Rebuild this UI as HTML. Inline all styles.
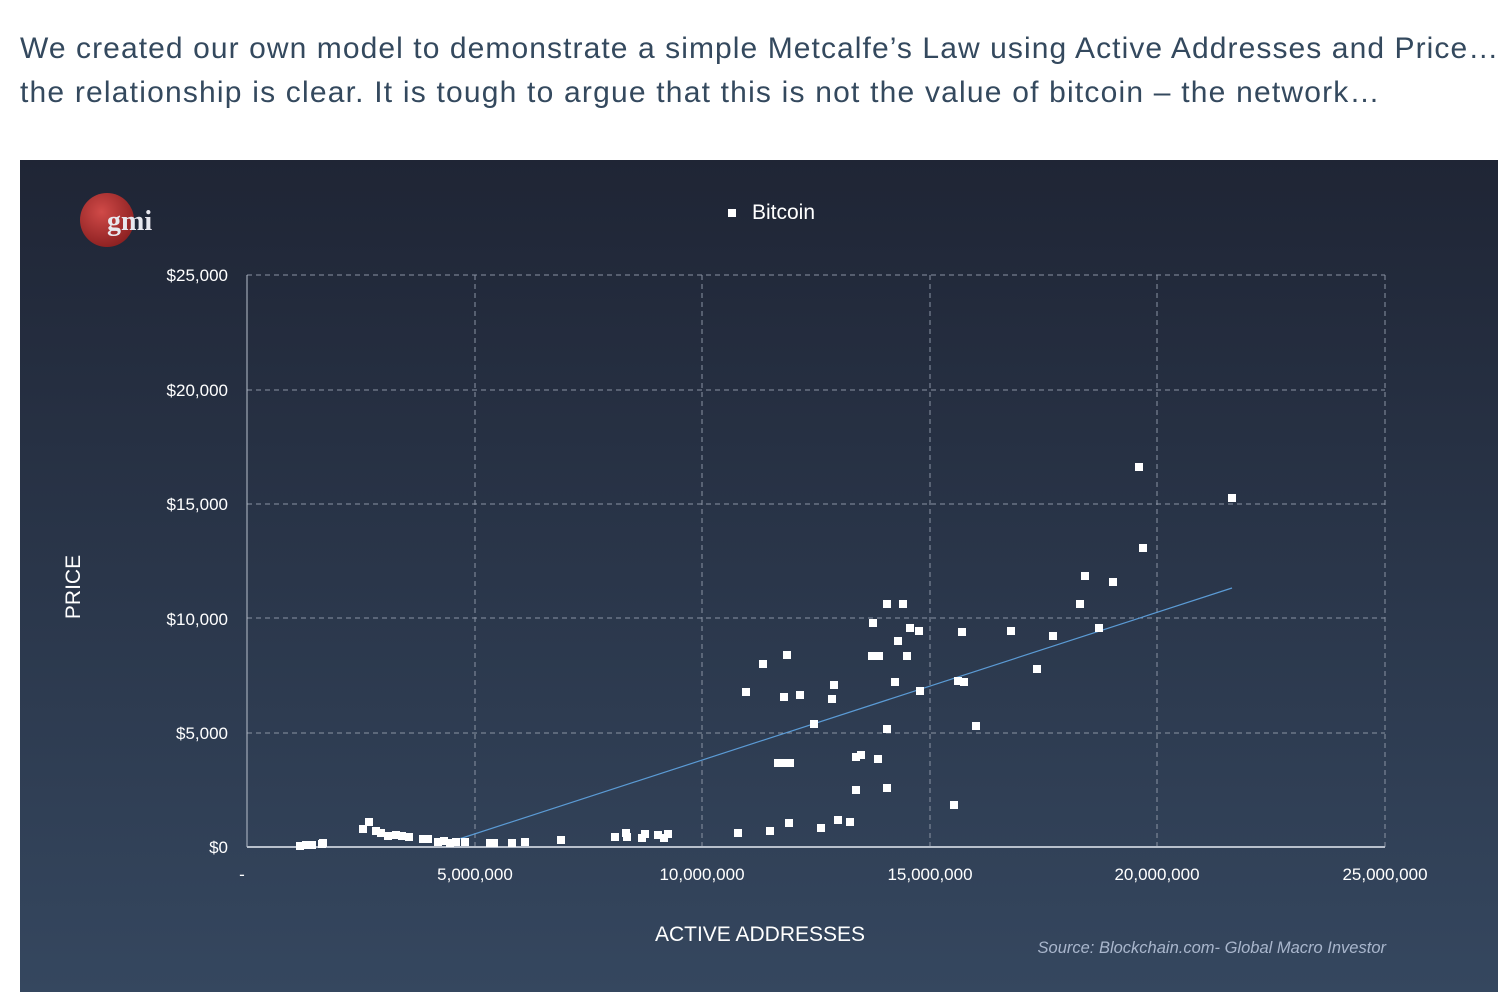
<!DOCTYPE html><html><head><meta charset="utf-8"><style>
body{margin:0;width:1508px;height:1008px;background:#fff;position:relative;overflow:hidden;font-family:"Liberation Sans",sans-serif}
.t{position:absolute;left:20px;color:#34495e;font-size:30px;white-space:nowrap}
</style></head><body>
<div class="t" style="top:32px;letter-spacing:1.08px">We created our own model to demonstrate a simple Metcalfe’s Law using Active Addresses and Price…</div>
<div class="t" style="top:76px;letter-spacing:1.2px">the relationship is clear. It is tough to argue that this is not the value of bitcoin – the network…</div>
<svg style="position:absolute;left:0;top:0" width="1508" height="1008">
<defs><linearGradient id="g" x1="0" y1="0" x2="0" y2="1"><stop offset="0" stop-color="#1f2535"/><stop offset="1" stop-color="#35475f"/></linearGradient>
<radialGradient id="r" cx="0.4" cy="0.35" r="0.7"><stop offset="0" stop-color="#d04a48"/><stop offset="1" stop-color="#8a1f20"/></radialGradient></defs>
<rect x="20" y="160" width="1478" height="832" fill="url(#g)"/>
<circle cx="107" cy="220" r="27" fill="url(#r)"/>
<text x="107" y="230" font-family="Liberation Serif,serif" font-weight="bold" font-size="28" fill="#e8e8ee">gmi</text>
<g stroke="#8a93a3" stroke-dasharray="5,4" stroke-width="1" fill="none">
<line x1="247" y1="275" x2="1385" y2="275"/><line x1="247" y1="390" x2="1385" y2="390"/><line x1="247" y1="504" x2="1385" y2="504"/><line x1="247" y1="618" x2="1385" y2="618"/><line x1="247" y1="733" x2="1385" y2="733"/>
<line x1="475" y1="275" x2="475" y2="847"/><line x1="702" y1="275" x2="702" y2="847"/><line x1="930" y1="275" x2="930" y2="847"/><line x1="1157" y1="275" x2="1157" y2="847"/><line x1="1385" y1="275" x2="1385" y2="847"/>
</g>
<line x1="247" y1="275" x2="247" y2="847" stroke="#b8c0cc"/>
<line x1="247" y1="847" x2="1385" y2="847" stroke="#b8c0cc" stroke-width="2"/>
<g fill="#fff" font-size="17" text-anchor="end">
<text x="228" y="281">$25,000</text><text x="228" y="396">$20,000</text><text x="228" y="510">$15,000</text><text x="228" y="625">$10,000</text><text x="228" y="739">$5,000</text><text x="228" y="853">$0</text>
</g>
<g fill="#fff" font-size="17" text-anchor="middle">
<text x="242" y="880">-</text><text x="475" y="880">5,000,000</text><text x="702" y="880">10,000,000</text><text x="930" y="880">15,000,000</text><text x="1157" y="880">20,000,000</text><text x="1385" y="880">25,000,000</text>
<text x="760" y="941" font-size="21">ACTIVE ADDRESSES</text>
</g>
<text x="80" y="587" fill="#fff" font-size="21" text-anchor="middle" transform="rotate(-90 80 587)">PRICE</text>
<rect x="728" y="209" width="8" height="8" fill="#fff"/>
<text x="752" y="219" fill="#fff" font-size="21">Bitcoin</text>
<text x="1386" y="953" fill="#a9b6cc" font-size="16.5" font-style="italic" text-anchor="end">Source: Blockchain.com- Global Macro Investor</text>
<line x1="456" y1="840" x2="1232" y2="588" stroke="#5b9bd5" stroke-width="1.2"/>
<g fill="#fff" id="p"></g>
</svg>
<script>
var pts=[[300,846],[306,845],[312,845],[322,844],[323,843],[363,829],[369,822],[376,831],[381,833],[388,836],[396,835],[402,836],[409,837],[423,839],[428,839],[438,842],[444,841],[450,843],[456,842],[465,842],[490,843],[494,843],[512,843],[525,842],[561,840],[615,837],[626,833],[627,837],[642,838],[645,834],[658,835],[664,838],[668,834],[738,833],[770,831],[789,823],[821,828],[838,820],[850,822],
[746,692],[763,664],[787,655],[784,697],[800,695],[778,763],[784,763],[790,763],[814,724],[832,699],[834,685],[856,757],[861,755],[856,790],[878,759],[873,623],[872,656],[879,656],[887,604],[903,604],[898,641],[895,682],[887,729],[887,788],[907,656],[910,628],[919,631],[920,691],[954,805],[958,681],[964,682],[962,632],[976,726],[1011,631],[1037,669],[1053,636],[1080,604],[1085,576],[1099,628],[1113,582],[1139,467],[1143,548],[1232,498]];
var g=document.getElementById('p'),s='';pts.forEach(function(q){s+='<rect x="'+(q[0]-4)+'" y="'+(q[1]-4)+'" width="8" height="8"/>';});g.innerHTML=s;
</script>
</body></html>
